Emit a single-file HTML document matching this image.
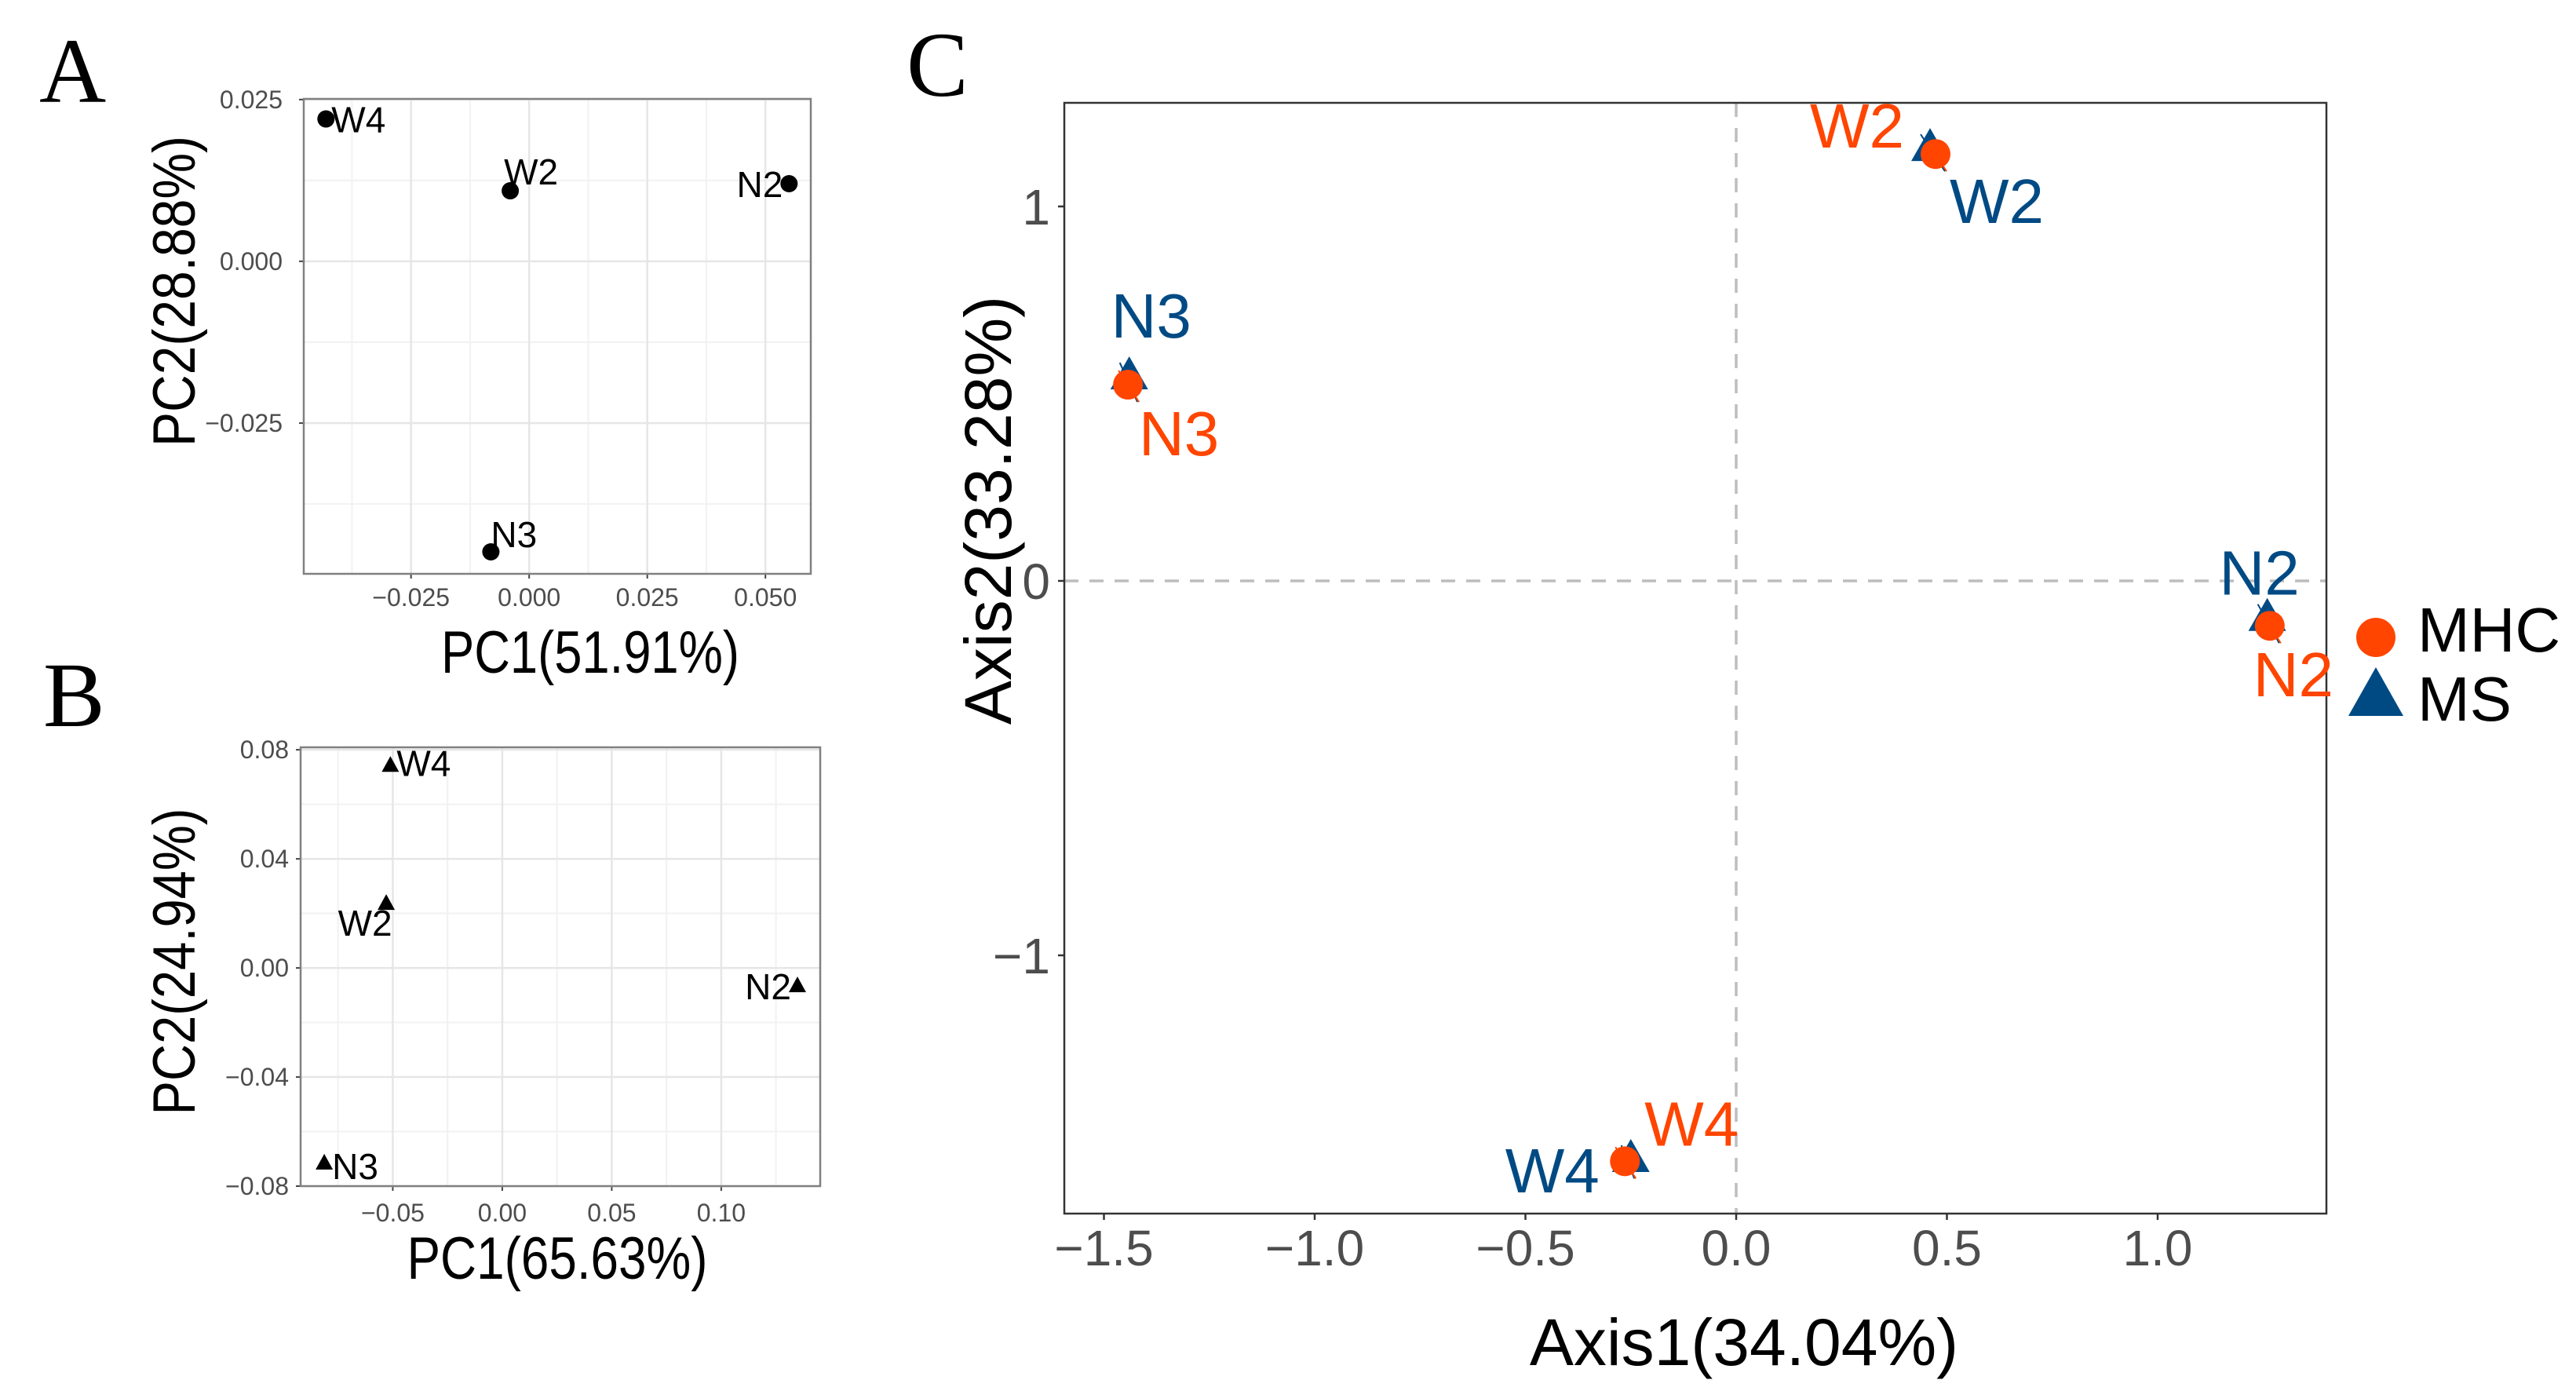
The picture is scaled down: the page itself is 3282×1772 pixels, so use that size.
<!DOCTYPE html>
<html><head><meta charset="utf-8"><style>
html,body{margin:0;padding:0;background:#fff;}
svg{display:block;font-family:"Liberation Sans",Arial,sans-serif;}
</style></head><body>
<svg id="fig" width="3282" height="1772" viewBox="0 0 3282 1772" xmlns="http://www.w3.org/2000/svg">
<rect width="3282" height="1772" fill="#fff"/>
<text x="50" y="130" font-family="Liberation Serif,serif" font-size="118">A</text>
<text x="55" y="925" font-family="Liberation Serif,serif" font-size="118">B</text>
<text x="1155" y="122" font-family="Liberation Serif,serif" font-size="118">C</text>
<g id="pA"></g>
<g id="pB"></g>
<g id="pC"></g>
</svg>
<script>
// Panel A data
const aLabels = ["W4","W2","N2","N3"];
const aX = [-0.043,-0.004,0.055,-0.0081];
const aY = [0.022,0.0109,0.012,-0.0449];
const aXTicks = [-0.025,0,0.025,0.05];
const aXTickLabels = ["\u22120.025","0.000","0.025","0.050"];
const aYTicks = [0.025,0,-0.025];
const aYTickLabels = ["0.025","0.000","\u22120.025"];
// Panel B data
const bLabels = ["W4","W2","N2","N3"];
const bX = [-0.0511,-0.053,0.1348,-0.0813];
const bY = [0.0742,0.0236,-0.0066,-0.0716];
const bXTicks = [-0.05,0,0.05,0.1];
const bXTickLabels = ["\u22120.05","0.00","0.05","0.10"];
const bYTicks = [0.08,0.04,0,-0.04,-0.08];
const bYTickLabels = ["0.08","0.04","0.00","\u22120.04","\u22120.08"];
// Panel C data
const cLabels = ["W2","N3","N2","W4"];
const cMhcX = [0.473,-1.443,1.266,-0.264];
const cMhcY = [1.14,0.524,-0.12,-1.55];
const cMsX = [0.46,-1.44,1.26,-0.25];
const cMsY = [1.155,0.545,-0.10,-1.545];
const cXTicks = [-1.5,-1,-0.5,0,0.5,1];
const cXTickLabels = ["\u22121.5","\u22121.0","\u22120.5","0.0","0.5","1.0"];
const cYTicks = [1,0,-1];
const cYTickLabels = ["1","0","\u22121"];

const NS="http://www.w3.org/2000/svg";
function mk(parent,tag,attrs,text){const e=document.createElementNS(NS,tag);for(const k in attrs)e.setAttribute(k,attrs[k]);if(text!==undefined)e.textContent=text;parent.appendChild(e);return e;}
function lin(d0,d1,r0,r1){return v=>r0+(v-d0)/(d1-d0)*(r1-r0);}

function smallPanel(g,cfg){
  const L=cfg.box[0],T=cfg.box[1],R=cfg.box[2],B=cfg.box[3];
  const sx=lin(cfg.xd[0],cfg.xd[1],L,R), sy=lin(cfg.yd[0],cfg.yd[1],B,T);
  for(let i=0;i<cfg.xt.length;i++){
    const step=cfg.xt[1]-cfg.xt[0];
    [cfg.xt[i]-step/2,cfg.xt[i]+step/2].forEach(v=>{const x=sx(v);if(x>L&&x<R){const l=mk(g,"line",{x1:x,x2:x,y1:T,y2:B,stroke:"#f2f2f2","stroke-width":2});}});
  }
  for(let i=0;i<cfg.yt.length;i++){
    const step=cfg.yt[0]-cfg.yt[1];
    [cfg.yt[i]-step/2,cfg.yt[i]+step/2].forEach(v=>{const y=sy(v);if(y>T&&y<B){const l=mk(g,"line",{x1:L,x2:R,y1:y,y2:y,stroke:"#f2f2f2","stroke-width":2});}});
  }
  cfg.xt.forEach((v,i)=>{const x=sx(v);
    const l=mk(g,"line",{x1:x,x2:x,y1:T,y2:B,stroke:"#e6e6e6","stroke-width":2.5});
    
    mk(g,"line",{x1:x,x2:x,y1:B,y2:B+6,stroke:"#444","stroke-width":2});
    const t=mk(g,"text",{x:x,y:cfg.xtY,"text-anchor":"middle","font-size":32,fill:"#4d4d4d"},cfg.xtl[i]);
    });
  cfg.yt.forEach((v,i)=>{const y=sy(v);
    const l=mk(g,"line",{x1:L,x2:R,y1:y,y2:y,stroke:"#e6e6e6","stroke-width":2.5});
    
    mk(g,"line",{x1:L-6,x2:L,y1:y,y2:y,stroke:"#444","stroke-width":2});
    const t=mk(g,"text",{x:cfg.ytX,y:y+11,"text-anchor":"end","font-size":32,fill:"#4d4d4d"},cfg.ytl[i]);
    });
  const r=mk(g,"rect",{x:L,y:T,width:R-L,height:B-T,fill:"none",stroke:"#808080","stroke-width":2.5});
  
  cfg.xs.forEach((v,i)=>{const x=sx(v),y=sy(cfg.ys[i]);let m;
    if(cfg.shape==="circle") m=mk(g,"circle",{cx:x,cy:y,r:11,fill:"#000"});
    else m=mk(g,"polygon",{points:`${x},${y-12} ${x-11},${y+8} ${x+11},${y+8}`,fill:"#000"});
    
    const lp=cfg.lab[i];
    const t=mk(g,"text",{x:x+lp[0],y:y+lp[1],"text-anchor":lp[2],"font-size":46,fill:"#000"},cfg.labels[i]);
    });
  const xt=mk(g,"text",{x:cfg.xTitle[0],y:cfg.xTitle[1],"text-anchor":"middle","font-size":76,fill:"#000",textLength:cfg.xTitle[3],lengthAdjust:"spacingAndGlyphs"},cfg.xTitle[2]);
  
  const yt=mk(g,"text",{x:0,y:0,transform:`translate(${cfg.yTitle[0]},${cfg.yTitle[1]}) rotate(-90)`,"text-anchor":"middle","font-size":76,fill:"#000",textLength:cfg.yTitle[3],lengthAdjust:"spacingAndGlyphs"},cfg.yTitle[2]);
  
}

smallPanel(document.getElementById("pA"),{box:[387,126,1033,731],xd:[-0.0477,0.0596],yd:[-0.0483,0.0251],
  xt:aXTicks,xtl:aXTickLabels,yt:aYTicks,ytl:aYTickLabels,xtY:772,ytX:360,xs:aX,ys:aY,labels:aLabels,shape:"circle",
  lab:[[7,17,"start"],[-8,-8,"start"],[-8,17,"end"],[0,-6,"start"]],
  xTitle:[752,857,"PC1(51.91%)",380],yTitle:[248,371,"PC2(28.88%)",396]});
smallPanel(document.getElementById("pB"),{box:[383,952,1045,1511],xd:[-0.0921,0.1452],yd:[-0.080,0.0809],
  xt:bXTicks,xtl:bXTickLabels,yt:bYTicks,ytl:bYTickLabels,xtY:1556,ytX:368,xs:bX,ys:bY,labels:bLabels,shape:"tri",
  lab:[[8,13,"start"],[-27,41,"middle"],[-8,17,"end"],[10,20,"start"]],
  xTitle:[710,1629,"PC1(65.63%)",383],yTitle:[248,1225,"PC2(24.94%)",391]});

(function(){
  const g=document.getElementById("pC");
  const L=1356,T=131,R=2964,B=1546;
  const sx=lin(0,1,2212,2749), sy=lin(0,1,740,263);
  mk(g,"line",{x1:sx(0),x2:sx(0),y1:T,y2:B,stroke:"#bdbdbd","stroke-width":3.5,"stroke-dasharray":"18,14"});
  mk(g,"line",{x1:L,x2:R,y1:sy(0),y2:sy(0),stroke:"#bdbdbd","stroke-width":3.5,"stroke-dasharray":"18,14"});
  const r=mk(g,"rect",{x:L,y:T,width:R-L,height:B-T,fill:"none",stroke:"#333","stroke-width":2.5});
  
  cXTicks.forEach((v,i)=>{const x=sx(v);mk(g,"line",{x1:x,x2:x,y1:B,y2:B+8,stroke:"#333","stroke-width":2.5});
    const t=mk(g,"text",{x:x,y:1612,"text-anchor":"middle","font-size":64,fill:"#4d4d4d"},cXTickLabels[i]);
    });
  cYTicks.forEach((v,i)=>{const y=sy(v);mk(g,"line",{x1:L-8,x2:L,y1:y,y2:y,stroke:"#333","stroke-width":2.5});
    const t=mk(g,"text",{x:1338,y:y+23,"text-anchor":"end","font-size":64,fill:"#4d4d4d"},cYTickLabels[i]);
    });
  const labMs=[[25,95,"start"],[28,-50,"middle"],[-10,-30,"middle"],[-40,42,"end"]];
  const labMhc=[[-40,-8,"end"],[65,90,"middle"],[30,90,"middle"],[25,-20,"start"]];
  cLabels.forEach((lb,i)=>{
    const x1=sx(cMhcX[i]),y1=sy(cMhcY[i]),x2=sx(cMsX[i]),y2=sy(cMsY[i]);
    mk(g,"line",{x1:x2-12,y1:y2-18,x2:x1+12,y2:y1+22,stroke:"#00477f","stroke-width":2});
    mk(g,"line",{x1:x1-12,y1:y1-18,x2:x1+14,y2:y1+22,stroke:"#ff4500","stroke-width":2});
    const t1=mk(g,"polygon",{points:`${x2},${y2-26} ${x2-24},${y2+16} ${x2+24},${y2+16}`,fill:"#004a84"});
    
    const c1=mk(g,"circle",{cx:x1,cy:y1,r:19,fill:"#ff4500"});
    
    const a=labMs[i],b=labMhc[i];
    const tm=mk(g,"text",{x:x2+a[0],y:y2+a[1],"text-anchor":a[2],"font-size":80,fill:"#004a84"},lb);
    
    const th=mk(g,"text",{x:x1+b[0],y:y1+b[1],"text-anchor":b[2],"font-size":80,fill:"#ff4500"},lb);
    
  });
  const xt=mk(g,"text",{x:2222,y:1739,"text-anchor":"middle","font-size":84,fill:"#000"},"Axis1(34.04%)");
  
  const yt=mk(g,"text",{x:0,y:0,transform:"translate(1288,650) rotate(-90)","text-anchor":"middle","font-size":84,fill:"#000"},"Axis2(33.28%)");
  
  const lc=mk(g,"circle",{cx:3027,cy:812,r:25,fill:"#ff4500"});
  
  const lt=mk(g,"polygon",{points:"3027,850 2992,912 3062,912",fill:"#004a84"});
  
  const l1=mk(g,"text",{x:3080,y:830,"font-size":80,fill:"#000"},"MHC");
  
  const l2=mk(g,"text",{x:3080,y:918,"font-size":80,fill:"#000"},"MS");
  
})();
</script>
</body></html>
